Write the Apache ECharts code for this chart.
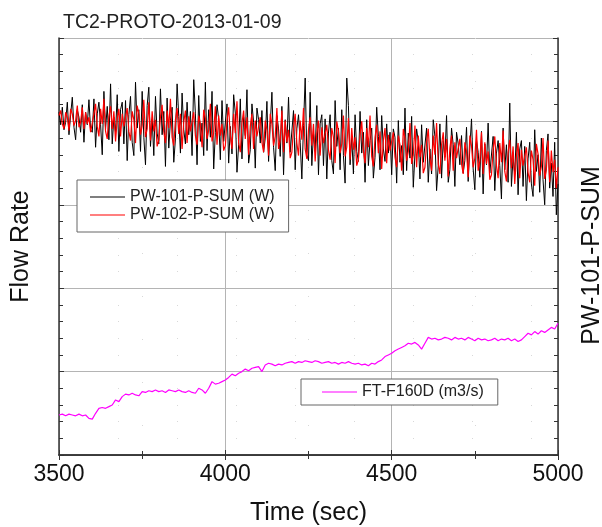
<!DOCTYPE html>
<html><head><meta charset="utf-8">
<script src="https://cdn.jsdelivr.net/npm/echarts@6/dist/echarts.min.js"></script>
<style>html,body{margin:0;padding:0;background:#fff}#c{width:602px;height:527px}</style>
</head><body><div id="c"></div>
<script>
const chartTitle = 'TC2-PROTO-2013-01-09';
const xTicks = [3500, 4000, 4500, 5000];
const pwStart = 3500, pwStep = 5;
const ftStart = 3500, ftStep = 10;
const pw101 = [
4.11,3.96,4.17,3.90,3.99,4.23,3.84,4.08,4.29,3.93,3.78,4.14,4.05,3.87,4.20,3.75,4.11,3.96,4.26,3.90,
3.87,4.27,3.69,4.09,4.23,3.96,3.60,4.36,3.91,4.18,3.78,4.45,3.73,4.05,3.87,4.32,3.64,4.14,4.23,3.73,
4.25,3.53,4.08,4.30,3.75,3.59,4.47,3.92,4.14,3.64,4.36,3.81,3.48,4.19,4.41,3.70,4.03,3.59,4.30,3.86,
3.73,4.39,3.84,4.12,3.46,4.28,3.68,4.01,4.17,3.51,3.79,4.45,4.06,3.62,4.34,3.90,3.73,4.23,3.84,4.12,
3.59,4.50,4.09,3.48,4.31,3.76,3.98,3.59,4.47,3.65,4.14,3.81,4.36,3.43,3.87,4.20,4.03,3.54,4.25,3.76,
3.77,4.21,3.50,3.94,3.61,4.32,4.10,3.39,3.72,4.27,3.55,4.05,3.83,4.38,3.50,3.66,4.21,3.99,3.44,4.16,
4.02,3.74,4.13,3.63,3.80,4.24,3.52,3.96,4.35,3.69,3.41,4.07,3.91,3.58,4.18,3.36,4.02,3.74,4.29,3.63,
3.64,4.13,3.42,3.91,4.08,3.75,3.31,3.95,4.52,3.60,3.53,4.35,3.47,3.86,3.64,4.19,3.36,3.97,4.08,3.47,
4.03,3.31,3.86,4.08,3.53,3.37,4.25,3.70,3.92,3.42,4.14,3.59,3.26,4.52,4.19,3.48,3.81,3.37,4.08,3.64,
3.52,4.12,3.62,3.87,3.27,4.02,3.47,3.77,3.92,3.32,3.57,4.17,3.82,3.42,4.07,3.67,3.52,3.97,3.62,3.87,
3.36,3.91,3.81,3.26,4.01,3.51,3.71,3.36,4.16,3.41,3.86,3.56,4.06,3.21,3.61,3.91,3.76,3.31,3.96,3.51,
3.52,3.92,3.27,3.67,3.37,4.02,3.82,3.17,3.47,3.97,3.32,3.77,3.57,4.07,3.27,3.42,3.92,3.72,3.22,3.87,
3.73,3.48,3.83,3.38,3.53,3.93,3.28,3.68,4.03,3.43,3.18,3.78,3.63,3.33,3.88,3.13,3.73,3.48,3.98,3.38,
3.37,3.82,3.17,3.62,3.77,3.47,3.07,3.92,3.42,3.72,3.27,4.22,3.22,3.57,3.37,3.87,3.12,3.67,3.77,3.22,
3.70,3.05,3.55,3.75,3.25,3.10,3.90,3.40,3.60,3.15,3.80,3.30,3.00,3.65,3.85,3.20,3.50,3.10,3.75,2.88,3.25];
const pw102 = [
4.07,4.13,3.97,3.91,4.11,4.05,3.89,4.15,4.09,3.95,4.01,4.19,3.93,3.99,4.17,3.91,4.11,3.97,4.05,3.87,
3.85,4.09,4.21,3.94,3.82,4.15,3.97,4.27,3.88,3.79,4.06,4.18,3.91,4.12,3.76,4.03,4.15,3.82,4.09,3.94,
4.05,4.16,3.88,3.77,4.12,4.02,3.74,4.19,4.09,3.84,3.95,4.26,3.81,3.91,4.23,3.77,4.12,3.88,4.02,3.70,
3.78,4.06,4.20,3.88,3.74,4.13,3.92,4.27,3.81,3.71,4.02,4.16,3.85,4.09,3.67,3.99,4.13,3.74,4.06,3.88,
4.00,4.11,3.83,3.72,4.07,3.97,3.69,4.14,4.04,3.79,3.90,4.21,3.76,3.86,4.18,3.72,4.07,3.83,3.97,3.65,
3.71,4.01,4.17,3.82,3.67,4.09,3.86,4.24,3.75,3.63,3.98,4.13,3.79,4.05,3.60,3.94,4.09,3.67,4.01,3.82,
3.94,4.05,3.75,3.63,4.01,3.90,3.59,4.09,3.97,3.71,3.82,4.16,3.67,3.78,4.13,3.63,4.01,3.75,3.90,3.56,
3.63,3.93,4.09,3.74,3.59,4.01,3.78,4.16,3.67,3.55,3.90,4.05,3.71,3.97,3.52,3.86,4.01,3.59,3.93,3.74,
3.85,3.96,3.66,3.54,3.92,3.81,3.50,4.00,3.88,3.62,3.73,4.07,3.58,3.69,4.04,3.54,3.92,3.66,3.81,3.47,
3.54,3.84,4.00,3.65,3.50,3.92,3.69,4.07,3.58,3.46,3.81,3.96,3.62,3.88,3.43,3.77,3.92,3.50,3.84,3.65,
3.76,3.87,3.57,3.45,3.83,3.72,3.41,3.91,3.79,3.53,3.64,3.98,3.49,3.60,3.95,3.45,3.83,3.57,3.72,3.38,
3.45,3.75,3.91,3.56,3.41,3.83,3.60,3.98,3.49,3.37,3.72,3.87,3.53,3.79,3.34,3.68,3.83,3.41,3.75,3.56,
3.68,3.79,3.49,3.37,3.75,3.64,3.33,3.83,3.71,3.45,3.56,3.90,3.41,3.52,3.87,3.37,3.75,3.49,3.64,3.30,
3.36,3.66,3.82,3.47,3.32,3.74,3.51,3.89,3.40,3.28,3.63,3.78,3.44,3.70,3.25,3.59,3.74,3.32,3.66,3.47,
3.58,3.69,3.39,3.27,3.65,3.54,3.23,3.73,3.61,3.35,3.46,3.80,3.31,3.42,3.77,3.27,3.65,3.39,3.54,3.20,3.45];
const ft160d = [
0.48,0.49,0.47,0.49,0.48,0.47,0.49,0.47,0.48,0.44,
0.43,0.50,0.56,0.57,0.56,0.58,0.60,0.66,0.64,0.70,
0.73,0.72,0.74,0.72,0.71,0.76,0.75,0.77,0.76,0.78,
0.76,0.77,0.75,0.78,0.77,0.76,0.78,0.76,0.75,0.77,
0.75,0.74,0.80,0.78,0.74,0.80,0.88,0.85,0.86,0.88,
0.90,0.93,0.97,0.95,0.98,1.00,1.03,1.01,1.04,1.05,
1.06,1.00,1.08,1.10,1.09,1.07,1.09,1.08,1.10,1.11,
1.12,1.10,1.12,1.11,1.13,1.12,1.11,1.13,1.12,1.10,
1.11,1.12,1.10,1.11,1.09,1.11,1.10,1.12,1.10,1.09,
1.10,1.08,1.09,1.07,1.10,1.09,1.12,1.14,1.18,1.20,
1.22,1.25,1.27,1.29,1.31,1.34,1.33,1.35,1.32,1.27,
1.34,1.41,1.39,1.40,1.38,1.39,1.41,1.40,1.38,1.41,
1.39,1.40,1.38,1.41,1.39,1.37,1.40,1.38,1.39,1.37,
1.38,1.40,1.37,1.39,1.38,1.40,1.37,1.39,1.36,1.38,
1.42,1.46,1.44,1.48,1.45,1.49,1.47,1.50,1.53,1.51,1.58];
const names = ['PW-101-P-SUM (W)', 'PW-102-P-SUM (W)', 'FT-F160D (m3/s)'];

const pairs = (arr, t0, dt) => arr.map((v, i) => [t0 + i * dt, v]);
const font = 'Arial, "Liberation Sans", sans-serif';
const gridColor = '#b4b4b4';
const chart = echarts.init(document.getElementById('c'));
const xBase = {
  type: 'value', min: 3500, max: 5000, interval: 500,
  axisLine: { show: true, lineStyle: { color: '#333', width: 1.5 } },
  axisTick: { show: true, inside: true, length: 5, lineStyle: { color: '#333' } },
  minorTick: { show: true, splitNumber: 2, length: 4, lineStyle: { color: '#333' } }
};
const yBase = {
  type: 'value', min: 0, max: 5, interval: 1,
  axisLine: { show: true, lineStyle: { color: '#333', width: 1.5 } },
  axisTick: { show: true, inside: true, length: 5, lineStyle: { color: '#333' } },
  minorTick: { show: true, splitNumber: 5, length: 4, lineStyle: { color: '#333' } },
  axisLabel: { show: false }
};
const legendText = { fontSize: 16, color: '#222', fontFamily: font };
chart.setOption({
  animation: false,
  backgroundColor: '#fff',
  textStyle: { fontFamily: font },
  title: { text: chartTitle, left: 58, top: 8, textStyle: { fontSize: 19.5, fontWeight: 'normal', color: '#222', fontFamily: font } },
  grid: { left: 59, right: 44, top: 38, bottom: 72, outerBoundsMode: 'none', containLabel: false },
  legend: [
    { data: [names[0], names[1]], orient: 'vertical', left: 77, top: 180, icon: 'rect', itemWidth: 35, itemHeight: 1, itemGap: 2,
      padding: [9, 14, 9, 13], borderColor: '#666', borderWidth: 1, backgroundColor: '#fff', textStyle: legendText },
    { data: [names[2]], orient: 'vertical', left: 301, top: 379, icon: 'rect', itemWidth: 35, itemHeight: 1,
      padding: [5, 14, 5, 21], borderColor: '#666', borderWidth: 1, backgroundColor: '#fff', textStyle: legendText }
  ],
  xAxis: [
    Object.assign({}, xBase, {
      position: 'bottom',
      name: 'Time (sec)', nameLocation: 'middle', nameGap: 46,
      nameTextStyle: { fontSize: 25, color: '#111', fontFamily: font },
      axisLabel: { show: true, fontSize: 23, color: '#111', margin: 8, fontFamily: font, formatter: v => xTicks.includes(v) ? String(v) : '' },
      splitLine: { show: true, lineStyle: { color: gridColor, width: 1 } },
      minorSplitLine: { show: true, lineStyle: { color: '#d8d8d8', width: 1, type: [1, 42] } }
    }),
    Object.assign({}, xBase, { position: 'top', axisLabel: { show: false }, splitLine: { show: false } })
  ],
  yAxis: [
    Object.assign({}, yBase, {
      position: 'left', name: 'Flow Rate', nameLocation: 'middle', nameGap: 25,
      nameTextStyle: { fontSize: 25, color: '#111', fontFamily: font },
      splitLine: { show: true, lineStyle: { color: gridColor, width: 1 } },
      minorSplitLine: { show: true, lineStyle: { color: '#d8d8d8', width: 1, type: [1, 58] } }
    }),
    Object.assign({}, yBase, {
      position: 'right', name: 'PW-101-P-SUM', nameLocation: 'middle', nameGap: 22, nameRotate: 90,
      nameTextStyle: { fontSize: 25, color: '#111', fontFamily: font, padding: [0, 18, 0, 0] },
      splitLine: { show: false }
    })
  ],
  series: [
    { name: names[0], type: 'line', data: pairs(pw101, pwStart, pwStep), symbol: 'none', lineStyle: { color: '#000', width: 1 }, itemStyle: { color: '#000' }, z: 2 },
    { name: names[1], type: 'line', data: pairs(pw102, pwStart, pwStep), symbol: 'none', lineStyle: { color: '#ff0000', width: 1.2 }, itemStyle: { color: '#ff0000' }, z: 3 },
    { name: names[2], type: 'line', data: pairs(ft160d, ftStart, ftStep), symbol: 'none', lineStyle: { color: '#ff00ff', width: 1.2 }, itemStyle: { color: '#ff00ff' }, z: 3 }
  ]
});
</script></body></html>
